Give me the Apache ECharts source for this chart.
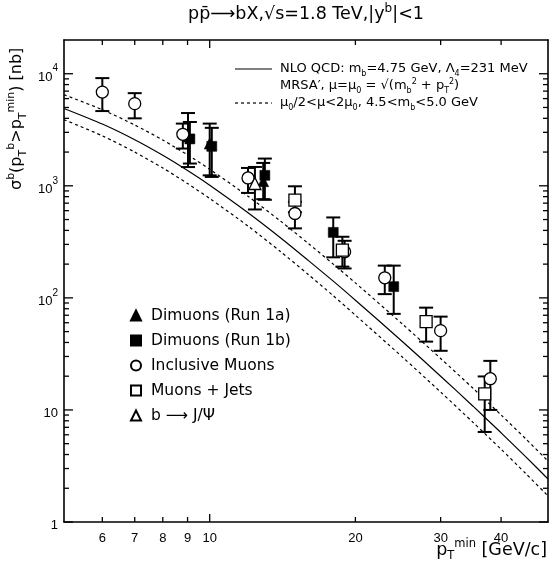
<!DOCTYPE html>
<html><head><meta charset="utf-8">
<script src="https://cdn.jsdelivr.net/npm/echarts@6/dist/echarts.min.js"></script>
<style>html,body{margin:0;padding:0;background:#fff}#c{width:549px;height:563px}</style>
</head><body><div id="c"></div>
<script>
const FONT = 'DejaVu Sans';
const NUMFONT = 'Liberation Sans';

// NLO QCD prediction of sigma_b(pT > pT_min) in nb, sampled in pT_min (GeV/c)
const ptGrid     = [5, 6, 7, 8, 9, 10, 12, 14, 16, 18, 20, 25, 30, 35, 40, 45, 50];
const nloCentral = [4898, 3556, 2576, 1871, 1368, 1012, 575, 344, 215, 141, 95.3, 40.8, 20.0, 10.8, 6.25, 3.81, 2.42];
const nloUpper   = [6501, 4775, 3491, 2559, 1888, 1406, 807, 485, 305, 200, 136, 58.5, 28.8, 15.6, 9.02, 5.51, 3.50];
const nloLower   = [3890, 2793, 2000, 1442, 1047, 771, 437, 259, 161, 104.5, 70.1, 29.7, 14.45, 7.74, 4.46, 2.70, 1.71];

// Measurements: pT_min, cross section, lower and upper error bar ends (nb)
const dimu1aPt = [9.02, 10.0, 12.9];
const dimu1aY  = [2770, 2380, 1100];
const dimu1aLo = [1470, 1240, 760];
const dimu1aHi = [4460, 3590, 1600];

const dimu1bPt = [9.1, 10.1, 13.0, 18.0, 24.0];
const dimu1bY  = [2620, 2250, 1240, 384, 126];
const dimu1bLo = [1580, 1200, 750, 230, 72];
const dimu1bHi = [3710, 3290, 1750, 522, 194];

const inclPt = [6.0, 7.0, 8.8, 12.0, 15.0, 19.0, 23.0, 30.0, 38.0];
const inclY  = [6860, 5410, 2880, 1175, 566, 258, 151, 51, 19.0];
const inclLo = [4645, 4000, 2150, 864, 417, 183, 108, 33.7, 10.0];
const inclHi = [9140, 6710, 3590, 1443, 720, 323, 194, 68, 27.4];

const jetsPt = [15.0, 18.8, 28.0, 37.0];
const jetsY  = [744, 267, 61.4, 13.9];
const jetsLo = [580, 190, 40.7, 6.36];
const jetsHi = [990, 351, 81.8, 19.9];

const jpsiPt = [12.4];
const jpsiY  = [1048];
const jpsiLo = [615];
const jpsiHi = [1473];

// Axis ranges and tick values
const X_MIN = 5, X_MAX = 50, Y_MIN = 1, Y_MAX = 20000;
const xTicks    = [6, 7, 8, 9, 10, 20, 30, 40];
const xTickLen  = [5, 5, 5, 5, 8, 5, 5, 5];
const xTickLabels = [6, 7, 8, 9, 10, 20, 30, 40];
const yLabelValues = [1, 10, 100, 1000, 10000];
const yTicks = [1,2,3,4,5,6,7,8,9, 10,20,30,40,50,60,70,80,90, 100,200,300,400,500,600,700,800,900,
                1000,2000,3000,4000,5000,6000,7000,8000,9000, 10000];
const yTickLen = yTicks.map(v => (Math.abs(Math.log10(v) - Math.round(Math.log10(v))) < 1e-9 ? 9 : 5));

const zip2 = (a, b) => a.map((v, i) => [v, b[i]]);
const zip3 = (a, b, c) => a.map((v, i) => [v, b[i], c[i]]);

const chart = echarts.init(document.getElementById('c'), null, {renderer: 'canvas'});
const blk = '#000';

const names = {
  d1a: 'Dimuons (Run 1a)',
  d1b: 'Dimuons (Run 1b)',
  incl: 'Inclusive Muons',
  jets: 'Muons + Jets',
  jpsi: 'b \u27F6 J/\u03A8'
};

function xAxis(pos, labels) {
  return {
    type: 'log', logBase: 10, min: X_MIN, max: X_MAX, position: pos,
    axisLine: {show: true, onZero: false, lineStyle: {color: blk, width: 1.6}},
    axisTick: {show: false},
    axisLabel: labels ? {show: true, customValues: labels, margin: 10, color: blk,
      fontFamily: NUMFONT, fontSize: 13, formatter: v => String(Math.round(v))} : {show: false},
    splitLine: {show: false}, minorTick: {show: false}
  };
}
function yAxis(pos, labels) {
  return {
    type: 'log', logBase: 10, min: Y_MIN, max: Y_MAX, position: pos,
    axisLine: {show: true, onZero: false, lineStyle: {color: blk, width: 1.6}},
    axisTick: {show: false},
    axisLabel: labels ? {
      show: true, customValues: labels, margin: 6, color: blk, fontFamily: NUMFONT,
      formatter: v => {
        const e = Math.round(Math.log10(v));
        if (e === 0) return '{b|1}';
        if (e === 1) return '{b|10}';
        return '{b|10}{e|' + e + '}';
      },
      rich: {
        b: {fontSize: 13, fontFamily: NUMFONT, color: blk, lineHeight: 20, verticalAlign: 'bottom'},
        e: {fontSize: 10, fontFamily: NUMFONT, color: blk, lineHeight: 10, verticalAlign: 'top'}
      }
    } : {show: false},
    splitLine: {show: false}, minorTick: {show: false}
  };
}

// Frame ticks: each item is [x, yLow, yHigh] spanning the plot, with short marks drawn at both ends
function frameTicks(name, data, lens, vertical) {
  return {
    type: 'custom', name: name, xAxisIndex: 0, yAxisIndex: 0, z: 12,
    data: data,
    encode: vertical ? {x: 0, y: [1, 2]} : {x: [0, 1], y: 2},
    renderItem: (params, api) => {
      const len = lens[params.dataIndex];
      const s = {stroke: blk, lineWidth: 1.3};
      let a, b;
      if (vertical) {
        a = api.coord([api.value(0), api.value(1)]);
        b = api.coord([api.value(0), api.value(2)]);
        return {type: 'group', children: [
          {type: 'line', shape: {x1: a[0], y1: a[1], x2: a[0], y2: a[1] - len}, style: s},
          {type: 'line', shape: {x1: b[0], y1: b[1], x2: b[0], y2: b[1] + len}, style: s}
        ]};
      }
      a = api.coord([api.value(0), api.value(2)]);
      b = api.coord([api.value(1), api.value(2)]);
      return {type: 'group', children: [
        {type: 'line', shape: {x1: a[0], y1: a[1], x2: a[0] + len, y2: a[1]}, style: s},
        {type: 'line', shape: {x1: b[0], y1: b[1], x2: b[0] - len, y2: b[1]}, style: s}
      ]};
    },
    silent: true
  };
}

function errorBars(name, pts, lo, hi) {
  return {
    type: 'custom', name: name + ' errors', xAxisIndex: 0, yAxisIndex: 0, z: 3,
    data: zip3(pts, lo, hi),
    encode: {x: 0, y: [1, 2]},
    renderItem: (params, api) => {
      const x = api.value(0);
      const a = api.coord([x, api.value(1)]);
      const b = api.coord([x, api.value(2)]);
      const w = 7;
      const s = {stroke: blk, lineWidth: 2};
      return {type: 'group', children: [
        {type: 'line', shape: {x1: a[0], y1: a[1], x2: b[0], y2: b[1]}, style: s},
        {type: 'line', shape: {x1: a[0] - w, y1: a[1], x2: a[0] + w, y2: a[1]}, style: s},
        {type: 'line', shape: {x1: b[0] - w, y1: b[1], x2: b[0] + w, y2: b[1]}, style: s}
      ]};
    },
    silent: true
  };
}

function points(name, pts, ys, symbol, size, filled) {
  return {
    type: 'scatter', name: name, xAxisIndex: 0, yAxisIndex: 0, z: 5,
    data: zip2(pts, ys), symbol: symbol, symbolSize: size,
    itemStyle: filled ? {color: blk, borderColor: blk, borderWidth: 0.5, opacity: 1}
                      : {color: '#fff', borderColor: blk, borderWidth: 1.3, opacity: 1}
  };
}

function curve(name, ys, dashed) {
  return {
    type: 'line', name: name, xAxisIndex: 0, yAxisIndex: 0, z: 2,
    data: zip2(ptGrid, ys), showSymbol: false, smooth: 0.25, silent: true,
    lineStyle: {color: blk, width: 1.2, type: dashed ? [3, 3] : 'solid'}
  };
}

function txt(size) { return {fontSize: size, fontFamily: FONT, color: blk, lineHeight: size + 4, verticalAlign: 'middle'}; }
function sub(size) { return {fontSize: size, fontFamily: FONT, color: blk, lineHeight: size * 2.1, verticalAlign: 'bottom'}; }
function sup(size) { return {fontSize: size, fontFamily: FONT, color: blk, lineHeight: size, verticalAlign: 'top'}; }

chart.setOption({
  animation: false,
  backgroundColor: '#fff',
  grid: {left: 64, right: 1, top: 40, bottom: 41, containLabel: false},
  xAxis: [xAxis('bottom', xTickLabels), xAxis('top', null)],
  yAxis: [yAxis('left', yLabelValues), yAxis('right', null)],
  legend: {
    orient: 'vertical', left: 125, top: 302, itemWidth: 10, itemHeight: 10, itemGap: 8,
    data: [names.d1a, names.d1b, names.incl, names.jets, names.jpsi],
    textStyle: {fontFamily: FONT, fontSize: 15.5, color: blk, lineHeight: 17, padding: [0, 0, 0, 5]},
    selectedMode: false
  },
  series: [
    curve('NLO central', nloCentral, false),
    curve('NLO upper', nloUpper, true),
    curve('NLO lower', nloLower, true),
    errorBars(names.incl, inclPt, inclLo, inclHi),
    errorBars(names.jets, jetsPt, jetsLo, jetsHi),
    errorBars(names.jpsi, jpsiPt, jpsiLo, jpsiHi),
    errorBars(names.d1a, dimu1aPt, dimu1aLo, dimu1aHi),
    errorBars(names.d1b, dimu1bPt, dimu1bLo, dimu1bHi),
    points(names.d1a, dimu1aPt, dimu1aY, 'triangle', 11, true),
    points(names.d1b, dimu1bPt, dimu1bY, 'rect', 10, true),
    points(names.incl, inclPt, inclY, 'circle', 12, false),
    points(names.jets, jetsPt, jetsY, 'rect', 12, false),
    points(names.jpsi, jpsiPt, jpsiY, 'triangle', 12, false),
    frameTicks('x frame ticks', xTicks.map(v => [v, Y_MIN, Y_MAX]), xTickLen, true),
    frameTicks('y frame ticks', yTicks.map(v => [X_MIN, X_MAX, v]), yTickLen, false)
  ],
  graphic: [
    {type: 'text', x: 306, y: 14, style: {
      text: '{t|p\u0070\u0304\u27F6bX,\u221As=1.8 TeV,|y}{s|b}{t||<1}', fill: blk,
      align: 'center', verticalAlign: 'middle',
      rich: {t: txt(17.5), s: sup(12)}}},
    {type: 'text', x: 17, y: 190, rotation: Math.PI / 2, style: {
      text: '{t|\u03C3}{s|b}{t|(p}{d|T}{s|b}{t|>p}{d|T}{s|min}{t|) [nb]}', fill: blk,
      rich: {t: txt(16), s: sup(11), d: sub(11)}, align: 'left', verticalAlign: 'middle'}},
    {type: 'text', x: 547, y: 550, style: {
      text: '{t|p}{d|T}{s|min}{t| [GeV/c]}', fill: blk, align: 'right', verticalAlign: 'middle',
      rich: {t: txt(17.5), s: sup(11.5), d: sub(11.5)}}},
    {type: 'line', shape: {x1: 235, y1: 69, x2: 272, y2: 69}, style: {stroke: blk, lineWidth: 1.2}},
    {type: 'text', x: 280, y: 69, style: {
      text: '{t|NLO QCD: m}{d|b}{t|=4.75 GeV, \u039B}{d|4}{t|=231 MeV}', fill: blk,
      align: 'left', verticalAlign: 'middle', rich: {t: txt(13), d: sub(8)}}},
    {type: 'text', x: 280, y: 86, style: {
      text: '{t|MRSA\u2032, \u03BC=\u03BC}{d|0}{t| = \u221A(m}{d|b}{s|2}{t| + p}{d|T}{s|2}{t|)}', fill: blk,
      align: 'left', verticalAlign: 'middle', rich: {t: txt(13), d: sub(8), s: sup(8)}}},
    {type: 'line', shape: {x1: 235, y1: 103, x2: 272, y2: 103}, style: {stroke: blk, lineWidth: 1.2, lineDash: [3, 3]}},
    {type: 'text', x: 280, y: 103, style: {
      text: '{t|\u03BC}{d|0}{t|/2<\u03BC<2\u03BC}{d|0}{t|, 4.5<m}{d|b}{t|<5.0 GeV}', fill: blk,
      align: 'left', verticalAlign: 'middle', rich: {t: txt(13), d: sub(8)}}}
  ]
});
</script>
</body></html>
